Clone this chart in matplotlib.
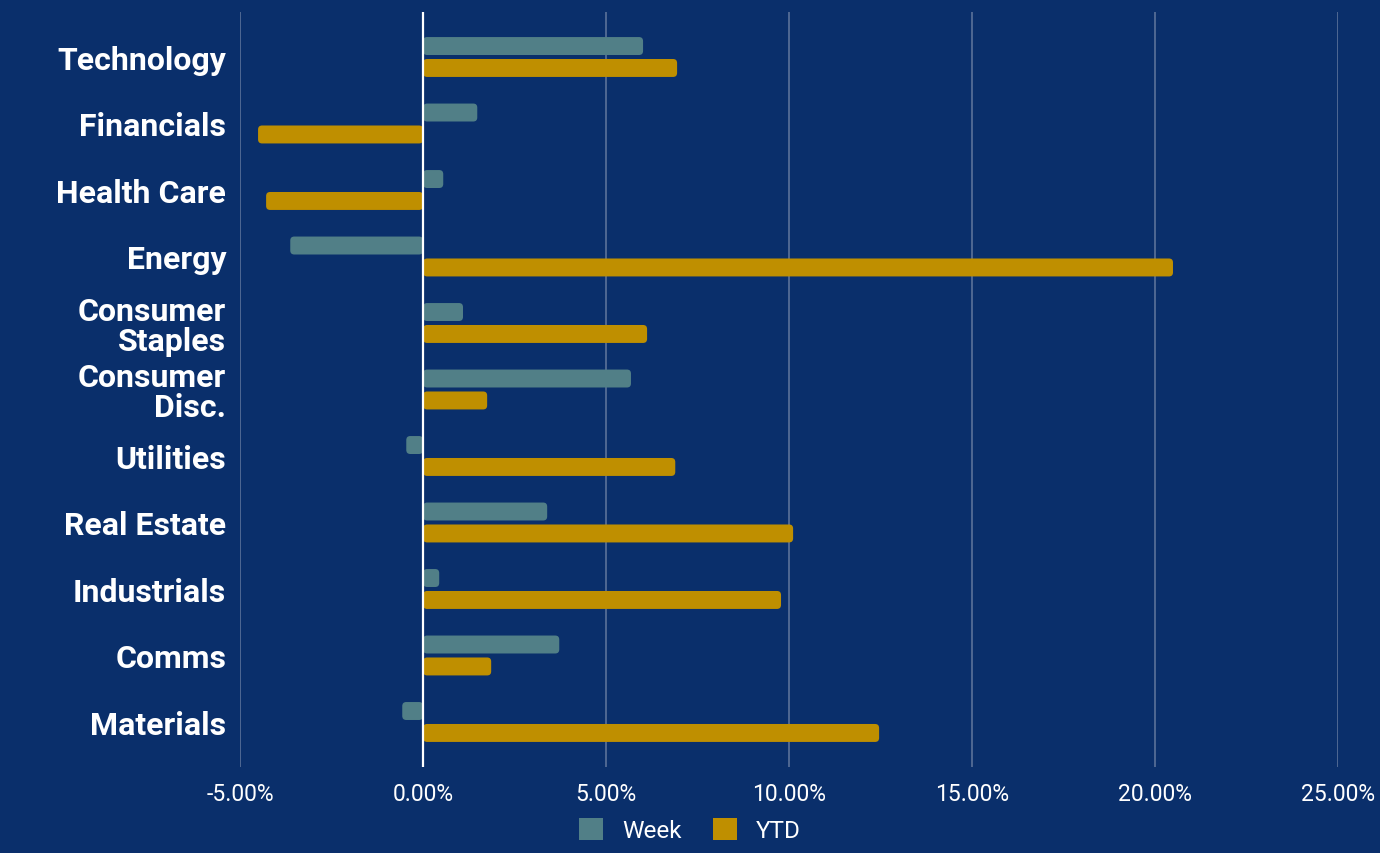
import numpy as np
import matplotlib.pyplot as plt
from matplotlib.patches import Patch, FancyBboxPatch

# data (percent)
sectors = ['Technology', 'Financials', 'Health Care', 'Energy', 'Consumer\nStaples',
           'Consumer\nDisc.', 'Utilities', 'Real Estate', 'Industrials', 'Comms', 'Materials']
week = [6.01, 1.48, 0.55, -3.63, 1.09, 5.68, -0.46, 3.39, 0.44, 3.72, -0.57]
ytd = [6.94, -4.51, -4.29, 20.49, 6.12, 1.75, 6.89, 10.11, 9.78, 1.86, 12.46]
xticks = [-5, 0, 5, 10, 15, 20, 25]

bg = '#0A2F6B'
c_week = '#517F87'
c_ytd = '#BF8F00'

plt.rcParams['font.family'] = ['Roboto', 'DejaVu Sans']

fig = plt.figure(figsize=(13.8, 8.54), dpi=100, facecolor=bg)
ax = fig.add_axes([0.174, 0.1007, 0.7956, 0.8841])
ax.set_facecolor(bg)

y = np.arange(len(sectors))
h = 0.27
bars_w = ax.barh(y - 0.165, week, height=h, color=c_week, zorder=3)
bars_y = ax.barh(y + 0.165, ytd, height=h, color=c_ytd, zorder=3)

# swap the plain rectangles for slightly rounded ones
for bars in (bars_w, bars_y):
    for p in bars:
        x0, w = p.get_x(), p.get_width()
        if w < 0:
            x0, w = x0 + w, -w
        fb = FancyBboxPatch((x0, p.get_y()), w, p.get_height(),
                            boxstyle='round,pad=0,rounding_size=0.11',
                            mutation_aspect=0.55, facecolor=p.get_facecolor(),
                            edgecolor='none', zorder=3)
        ax.add_patch(fb)
        p.set_visible(False)

ax.set_xlim(-5, 25)
ax.set_ylim(10.677, -0.677)
ax.set_xticks(xticks)
ax.set_xticklabels([f'{v:.2f}%' for v in xticks], color='white', fontsize=16.5)
ax.set_yticks(y)
ax.set_yticklabels(sectors, color='white', fontsize=23, fontweight='bold',
                   linespacing=0.98)
ax.tick_params(length=0)
ax.tick_params(axis='x', pad=11)
ax.tick_params(axis='y', pad=10)

ax.grid(axis='x', color='#5B7299', linewidth=1.2, zorder=0)
ax.axvline(0, color='white', linewidth=1.6, zorder=4)
for s in ax.spines.values():
    s.set_visible(False)

handles = [Patch(facecolor=c_week, label='Week'), Patch(facecolor=c_ytd, label='YTD')]
fig.legend(handles=handles, loc='lower center', bbox_to_anchor=(0.5, -0.013), ncol=2,
           frameon=False, fontsize=17.5, labelcolor='white', handlelength=1.0,
           handleheight=1.0, columnspacing=1.25)

fig.savefig('out.png', dpi=100, facecolor=bg)
